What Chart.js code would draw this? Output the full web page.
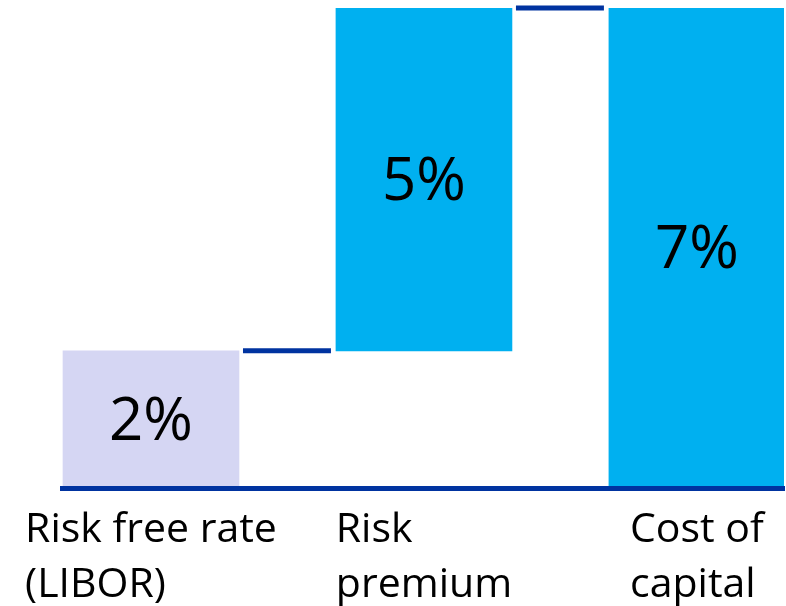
<!DOCTYPE html>
<html>
<head>
<meta charset="utf-8">
<script src="https://cdn.jsdelivr.net/npm/chart.js@4/dist/chart.umd.min.js"></script>
<style>
  html, body { margin: 0; padding: 0; background: #fff; }
  #wrap { width: 786px; height: 606px; }
</style>
</head>
<body>
<div id="wrap"><canvas id="waterfall"></canvas></div>
<script>
// ── Waterfall data (percent) ──
const categories = [['Risk free rate', '(LIBOR)'], ['Risk', 'premium'], ['Cost of', 'capital']];
const barStarts = [0, 2, 0];
const barEnds = [2, 7, 7];
const valueLabels = ['2%', '5%', '7%'];
const barColors = ['#d5d6f3', '#00b0f0', '#00b0f0'];

const LINE_BLUE = '#0033a0';
const FONT = '"Open Sans", "Noto Sans", sans-serif';

// Connectors between bars, value text in bars, and left-aligned category blocks
const waterfallExtras = {
  id: 'waterfallExtras',
  afterDatasetsDraw(chart) {
    const { ctx, chartArea, scales: { x, y } } = chart;
    const bars = chart.getDatasetMeta(0).data;
    ctx.save();

    ctx.strokeStyle = LINE_BLUE;
    ctx.lineWidth = 5;
    for (let i = 0; i < bars.length - 1; i++) {
      const a = bars[i], b = bars[i + 1];
      const level = y.getPixelForValue(barEnds[i]);
      ctx.beginPath();
      ctx.moveTo(a.x + a.width / 2 + 4, level);
      ctx.lineTo(b.x - b.width / 2 - 5, level);
      ctx.stroke();
    }

    ctx.fillStyle = '#000';
    ctx.font = `60px ${FONT}`;
    ctx.textAlign = 'center';
    ctx.textBaseline = 'middle';
    bars.forEach((bar, i) => {
      const mid = (y.getPixelForValue(barStarts[i]) + y.getPixelForValue(barEnds[i])) / 2;
      ctx.fillText(valueLabels[i], bar.x, mid + 3);
    });

    ctx.font = `41px ${FONT}`;
    ctx.textAlign = 'left';
    ctx.textBaseline = 'alphabetic';
    categories.forEach((lines, i) => {
      const w = Math.max(...lines.map(l => ctx.measureText(l).width));
      const left = x.getPixelForValue(i) - w / 2;
      lines.forEach((l, j) => ctx.fillText(l, left, chartArea.bottom + 54 + j * 55));
    });

    ctx.restore();
  }
};

new Chart(document.getElementById('waterfall'), {
  type: 'bar',
  data: {
    datasets: [{
      data: barStarts.map((s, i) => ({ x: i, y: [s, barEnds[i]] })),
      backgroundColor: barColors,
      borderWidth: 0,
      barThickness: 176,
    }],
  },
  options: {
    responsive: true,
    maintainAspectRatio: false,
    animation: false,
    layout: { padding: { left: 62, right: 2, top: 8, bottom: 118 } },
    plugins: { legend: { display: false }, tooltip: { enabled: false } },
    scales: {
      x: {
        type: 'linear', min: -0.326, max: 2.319, offset: false,
        grid: { display: false, drawTicks: false },
        ticks: { display: false },
        border: { color: LINE_BLUE, width: 5, z: 1 },
      },
      y: { display: false, min: 0, max: 7 },
    },
  },
  plugins: [waterfallExtras],
});
</script>
</body>
</html>
